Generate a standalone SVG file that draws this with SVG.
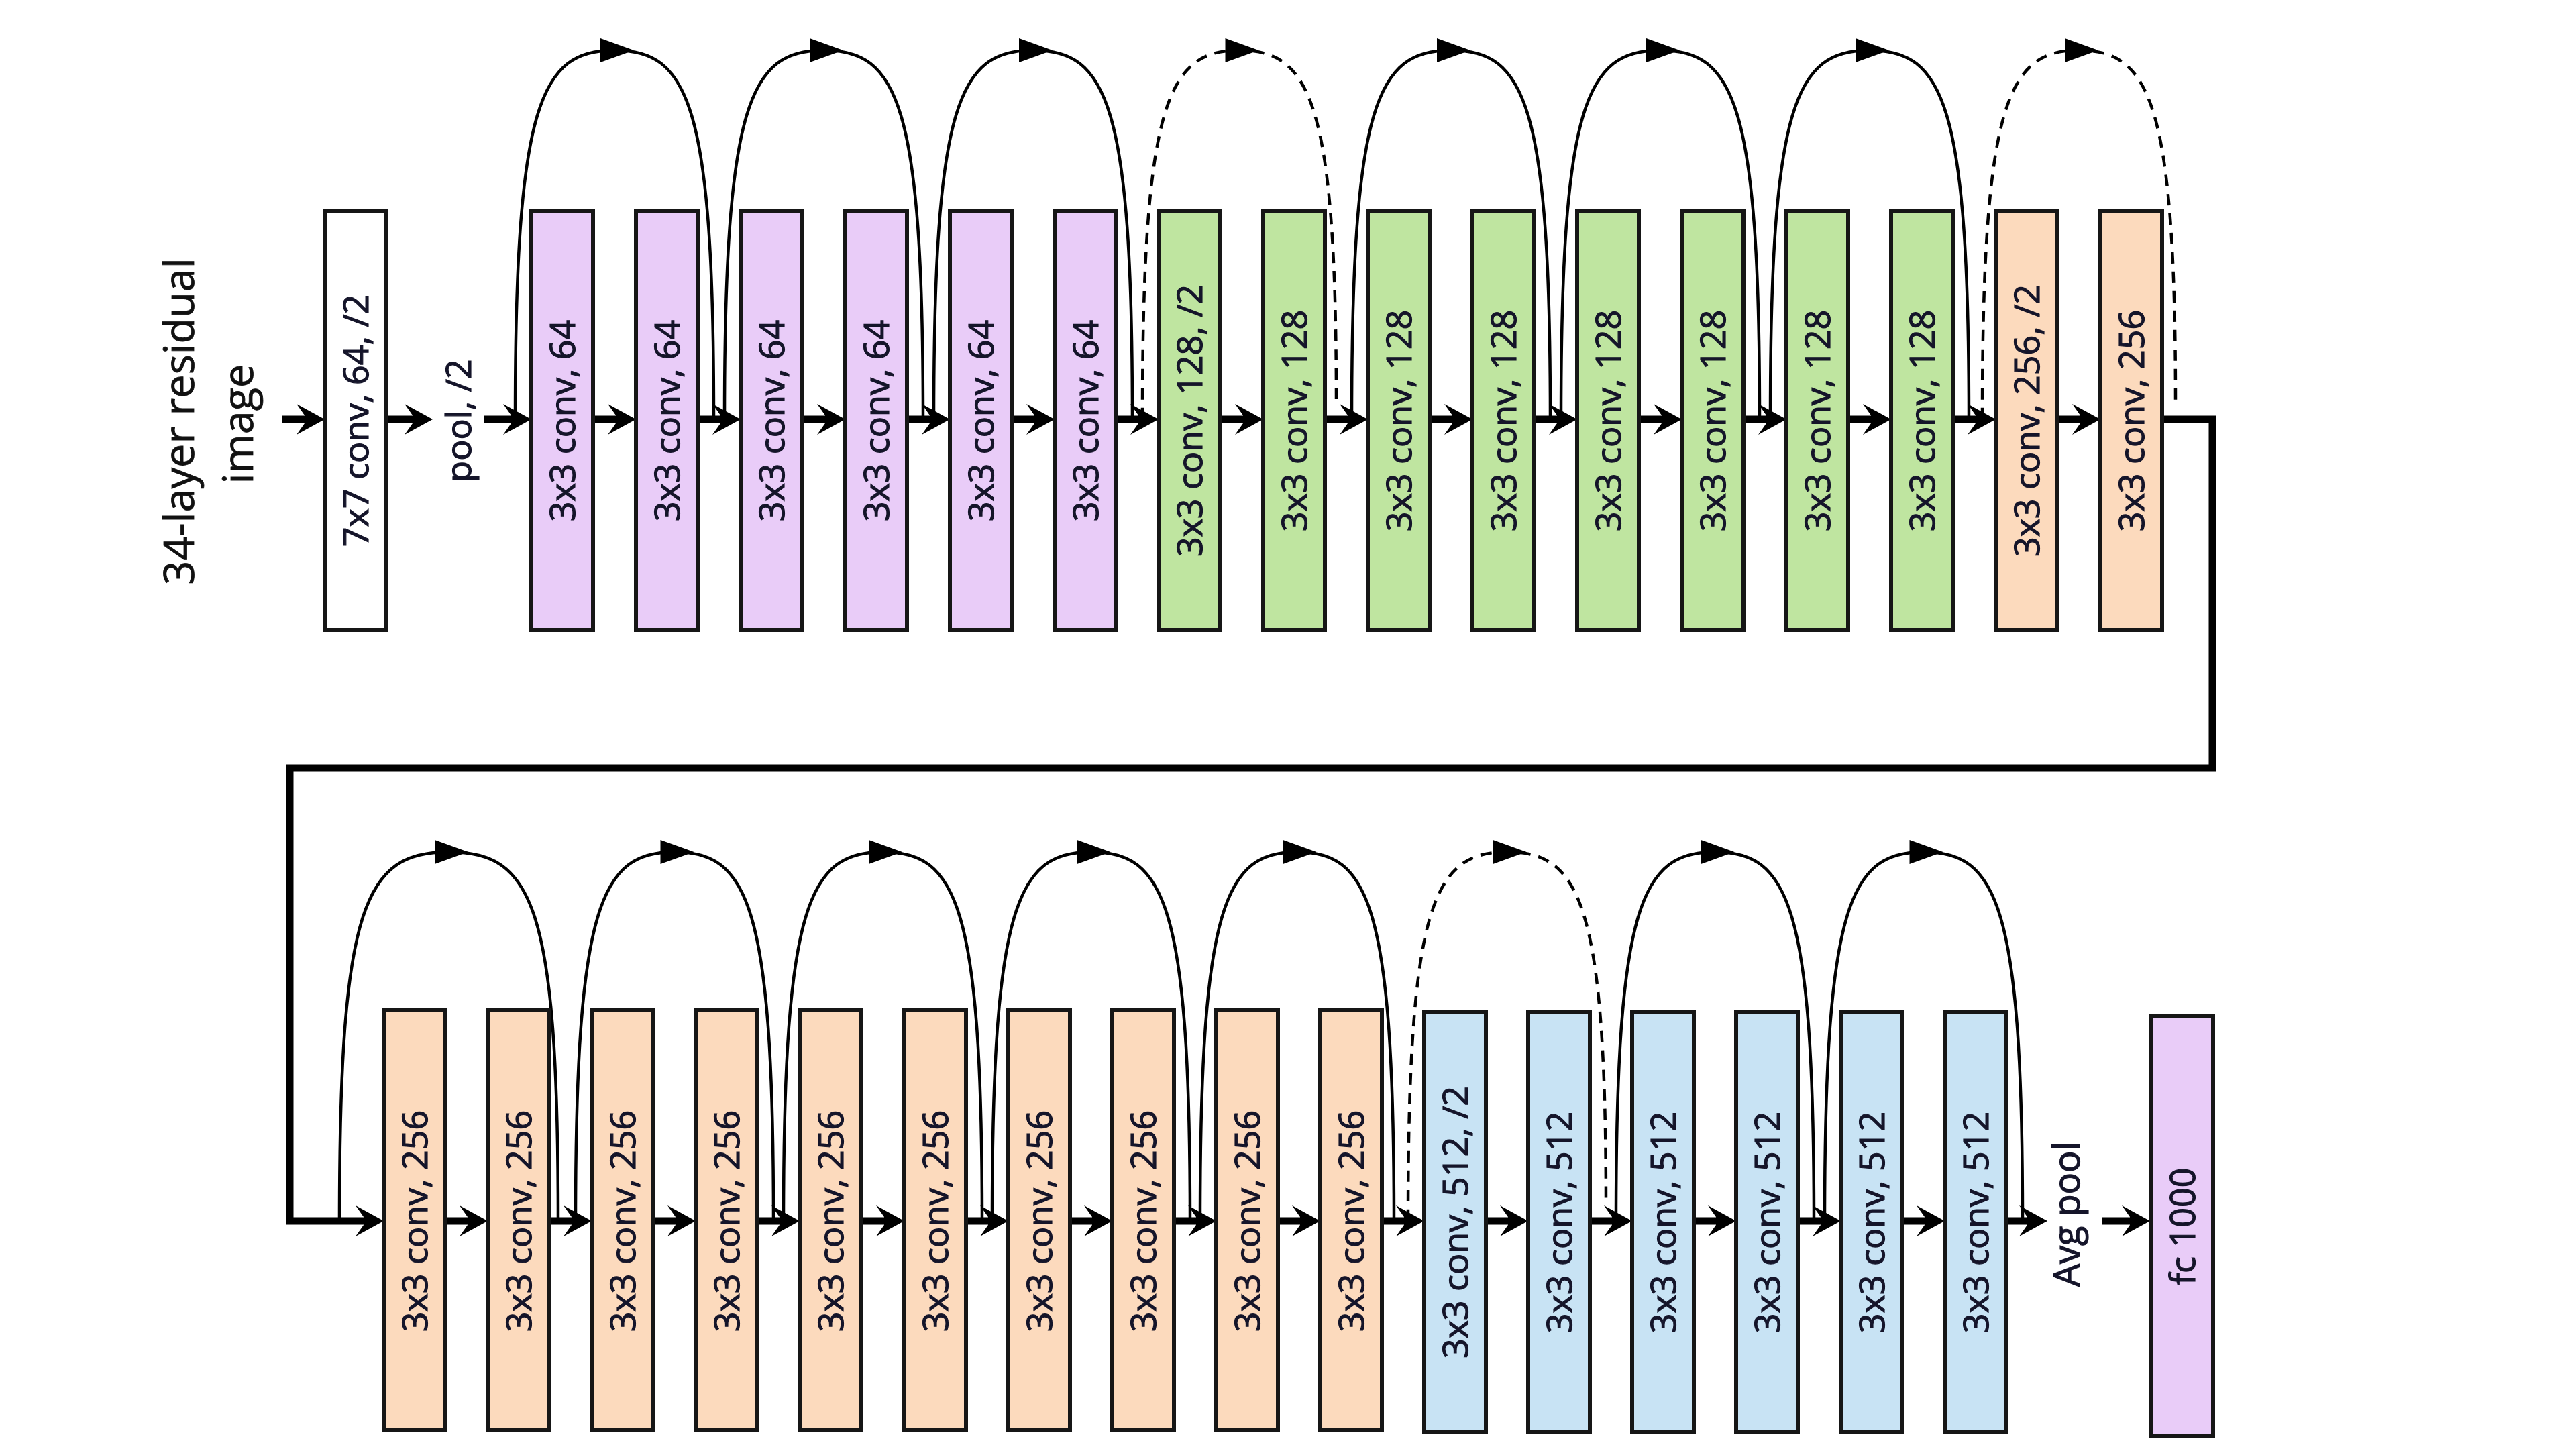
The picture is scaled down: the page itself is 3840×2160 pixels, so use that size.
<svg xmlns="http://www.w3.org/2000/svg" width="3840" height="2160" viewBox="0 0 3840 2160">
<defs>
<style>
.bg{fill:#ffffff}
.box{stroke:#161616;stroke-width:6}
.w{fill:#ffffff}
.p{fill:#E9CCF8}
.g{fill:#BFE5A0}
.o{fill:#FCDABD}
.b{fill:#C8E3F4}
.lbl{font-family:"Open Sans","DejaVu Sans",sans-serif;font-size:52px;fill:#15152a;stroke:#15152a;stroke-width:1.2;text-anchor:middle}
.ttl{font-family:"Open Sans","DejaVu Sans",sans-serif;font-size:63px;fill:#111;stroke:#111;stroke-width:0.8;text-anchor:middle}
.ml{fill:none;stroke:#000;stroke-width:11;stroke-linejoin:miter;marker-end:url(#ah)}
.arc{fill:none;stroke:#000;stroke-width:4.5;marker-mid:url(#tri)}
.dash{stroke-dasharray:17 12}
</style>
<marker id="ah" markerUnits="userSpaceOnUse" viewBox="-10 -30 60 60" markerWidth="60" markerHeight="60" refX="10" refY="0" orient="auto" overflow="visible">
<path d="M40,0 L-2,-23 L10,-6 L10,6 L-2,23 Z" fill="#000"/>
</marker>
<marker id="tri" markerUnits="userSpaceOnUse" viewBox="-30 -30 70 60" markerWidth="70" markerHeight="60" refX="0" refY="0" orient="auto" overflow="visible">
<path d="M29,0 L-21,-18 L-21,18 Z" fill="#000"/>
</marker>
</defs>
<rect class="bg" x="0" y="0" width="3840" height="2160"/>

<g id="title">
<text class="ttl" transform="translate(289,628) rotate(-90)">34-layer residual</text>
<text class="ttl" transform="translate(377,632) rotate(-90)">image</text>
</g>
<g id="pool">
<text class="lbl" transform="translate(702,627) rotate(-90)">pool, /2</text>
</g>
<g id="avgpool">
<text class="lbl" style="font-size:54px" transform="translate(3100,1810) rotate(-90)">Avg pool</text>
</g>

<g id="connectors">
<path class="ml" d="M420 625 H454"/>
<path class="ml" d="M577 625 H615"/>
<path class="ml" d="M722 625 H762"/>
<path class="ml" d="M884 625 H918"/>
<path class="ml" d="M1040 625 H1074"/>
<path class="ml" d="M1196 625 H1230"/>
<path class="ml" d="M1352 625 H1386"/>
<path class="ml" d="M1508 625 H1542"/>
<path class="ml" d="M1664 625 H1697"/>
<path class="ml" d="M1819 625 H1853"/>
<path class="ml" d="M1975 625 H2009"/>
<path class="ml" d="M2131 625 H2165"/>
<path class="ml" d="M2287 625 H2321"/>
<path class="ml" d="M2443 625 H2477"/>
<path class="ml" d="M2599 625 H2633"/>
<path class="ml" d="M2755 625 H2789"/>
<path class="ml" d="M2911 625 H2945"/>
<path class="ml" d="M3067 625 H3101"/>
<path class="ml" d="M3223 625 H3298 V1145 H432 V1820 H542"/>
<path class="ml" d="M664 1820 H697"/>
<path class="ml" d="M819 1820 H852"/>
<path class="ml" d="M974 1820 H1007"/>
<path class="ml" d="M1129 1820 H1162"/>
<path class="ml" d="M1284 1820 H1318"/>
<path class="ml" d="M1440 1820 H1473"/>
<path class="ml" d="M1595 1820 H1628"/>
<path class="ml" d="M1750 1820 H1783"/>
<path class="ml" d="M1905 1820 H1938"/>
<path class="ml" d="M2060 1820 H2093"/>
<path class="ml" d="M2215 1820 H2248"/>
<path class="ml" d="M2370 1820 H2403"/>
<path class="ml" d="M2525 1820 H2558"/>
<path class="ml" d="M2680 1820 H2714"/>
<path class="ml" d="M2836 1820 H2869"/>
<path class="ml" d="M2991 1820 H3022"/>
<path class="ml" d="M3133 1820 H3175"/>

<path class="arc" d="M768 625 C768 153 806 75 916 75 C1026 75 1064 153 1064 625"/>
<path class="arc" d="M1080 625 C1080 153 1118 75 1228 75 C1338 75 1376 153 1376 625"/>
<path class="arc" d="M1392 625 C1392 153 1430 75 1540 75 C1650 75 1688 153 1688 625"/>
<path class="arc dash" d="M1703 625 C1703 153 1741 75 1847.5 75 C1954 75 1992 153 1992 602"/>
<path class="arc" d="M2015 625 C2015 153 2053 75 2163 75 C2273 75 2311 153 2311 625"/>
<path class="arc" d="M2327 625 C2327 153 2365 75 2475 75 C2585 75 2623 153 2623 625"/>
<path class="arc" d="M2639 625 C2639 153 2677 75 2787 75 C2897 75 2935 153 2935 625"/>
<path class="arc dash" d="M2955 625 C2955 153 2993 75 3099 75 C3205 75 3243 153 3243 602"/>

<path class="arc" d="M506 1820 C506 1348 544 1270 669 1270 C794 1270 832 1348 832 1820"/>
<path class="arc" d="M858 1820 C858 1348 896 1270 1005.5 1270 C1115 1270 1153 1348 1153 1820"/>
<path class="arc" d="M1168 1820 C1168 1348 1206 1270 1316 1270 C1426 1270 1464 1348 1464 1820"/>
<path class="arc" d="M1479 1820 C1479 1348 1517 1270 1626.5 1270 C1736 1270 1774 1348 1774 1820"/>
<path class="arc" d="M1789 1820 C1789 1348 1827 1270 1933.5 1270 C2040 1270 2078 1348 2078 1820"/>
<path class="arc dash" d="M2099 1820 C2099 1348 2137 1270 2246.5 1270 C2356 1270 2394 1348 2394 1797"/>
<path class="arc" d="M2409 1820 C2409 1348 2447 1270 2556.5 1270 C2666 1270 2704 1348 2704 1820"/>
<path class="arc" d="M2720 1820 C2720 1348 2758 1270 2867.5 1270 C2977 1270 3015 1348 3015 1820"/>
</g>

<g id="conv7x7"><rect class="box w" x="484" y="315" width="92" height="624"/><text class="lbl" transform="translate(549,627) rotate(-90)">7x7 conv, 64, /2</text></g>
<g id="r1b1"><rect class="box p" x="792" y="315" width="92" height="624"/><text class="lbl" transform="translate(857,627) rotate(-90)">3x3 conv, 64</text></g>
<g id="r1b2"><rect class="box p" x="948" y="315" width="92" height="624"/><text class="lbl" transform="translate(1013,627) rotate(-90)">3x3 conv, 64</text></g>
<g id="r1b3"><rect class="box p" x="1104" y="315" width="92" height="624"/><text class="lbl" transform="translate(1169,627) rotate(-90)">3x3 conv, 64</text></g>
<g id="r1b4"><rect class="box p" x="1260" y="315" width="92" height="624"/><text class="lbl" transform="translate(1325,627) rotate(-90)">3x3 conv, 64</text></g>
<g id="r1b5"><rect class="box p" x="1416" y="315" width="92" height="624"/><text class="lbl" transform="translate(1481,627) rotate(-90)">3x3 conv, 64</text></g>
<g id="r1b6"><rect class="box p" x="1572" y="315" width="92" height="624"/><text class="lbl" transform="translate(1637,627) rotate(-90)">3x3 conv, 64</text></g>
<g id="r1b7"><rect class="box g" x="1727" y="315" width="92" height="624"/><text class="lbl" transform="translate(1792,627) rotate(-90)">3x3 conv, 128, /2</text></g>
<g id="r1b8"><rect class="box g" x="1883" y="315" width="92" height="624"/><text class="lbl" transform="translate(1948,627) rotate(-90)">3x3 conv, 128</text></g>
<g id="r1b9"><rect class="box g" x="2039" y="315" width="92" height="624"/><text class="lbl" transform="translate(2104,627) rotate(-90)">3x3 conv, 128</text></g>
<g id="r1b10"><rect class="box g" x="2195" y="315" width="92" height="624"/><text class="lbl" transform="translate(2260,627) rotate(-90)">3x3 conv, 128</text></g>
<g id="r1b11"><rect class="box g" x="2351" y="315" width="92" height="624"/><text class="lbl" transform="translate(2416,627) rotate(-90)">3x3 conv, 128</text></g>
<g id="r1b12"><rect class="box g" x="2507" y="315" width="92" height="624"/><text class="lbl" transform="translate(2572,627) rotate(-90)">3x3 conv, 128</text></g>
<g id="r1b13"><rect class="box g" x="2663" y="315" width="92" height="624"/><text class="lbl" transform="translate(2728,627) rotate(-90)">3x3 conv, 128</text></g>
<g id="r1b14"><rect class="box g" x="2819" y="315" width="92" height="624"/><text class="lbl" transform="translate(2884,627) rotate(-90)">3x3 conv, 128</text></g>
<g id="r1b15"><rect class="box o" x="2975" y="315" width="92" height="624"/><text class="lbl" transform="translate(3040,627) rotate(-90)">3x3 conv, 256, /2</text></g>
<g id="r1b16"><rect class="box o" x="3131" y="315" width="92" height="624"/><text class="lbl" transform="translate(3196,627) rotate(-90)">3x3 conv, 256</text></g>

<g id="r2b1"><rect class="box o" x="572" y="1506" width="92" height="626"/><text class="lbl" transform="translate(637,1820) rotate(-90)">3x3 conv, 256</text></g>
<g id="r2b2"><rect class="box o" x="727" y="1506" width="92" height="626"/><text class="lbl" transform="translate(792,1820) rotate(-90)">3x3 conv, 256</text></g>
<g id="r2b3"><rect class="box o" x="882" y="1506" width="92" height="626"/><text class="lbl" transform="translate(947,1820) rotate(-90)">3x3 conv, 256</text></g>
<g id="r2b4"><rect class="box o" x="1037" y="1506" width="92" height="626"/><text class="lbl" transform="translate(1102,1820) rotate(-90)">3x3 conv, 256</text></g>
<g id="r2b5"><rect class="box o" x="1192" y="1506" width="92" height="626"/><text class="lbl" transform="translate(1257,1820) rotate(-90)">3x3 conv, 256</text></g>
<g id="r2b6"><rect class="box o" x="1348" y="1506" width="92" height="626"/><text class="lbl" transform="translate(1413,1820) rotate(-90)">3x3 conv, 256</text></g>
<g id="r2b7"><rect class="box o" x="1503" y="1506" width="92" height="626"/><text class="lbl" transform="translate(1568,1820) rotate(-90)">3x3 conv, 256</text></g>
<g id="r2b8"><rect class="box o" x="1658" y="1506" width="92" height="626"/><text class="lbl" transform="translate(1723,1820) rotate(-90)">3x3 conv, 256</text></g>
<g id="r2b9"><rect class="box o" x="1813" y="1506" width="92" height="626"/><text class="lbl" transform="translate(1878,1820) rotate(-90)">3x3 conv, 256</text></g>
<g id="r2b10"><rect class="box o" x="1968" y="1506" width="92" height="626"/><text class="lbl" transform="translate(2033,1820) rotate(-90)">3x3 conv, 256</text></g>
<g id="r2b11"><rect class="box b" x="2123" y="1509" width="92" height="626"/><text class="lbl" transform="translate(2188,1822) rotate(-90)">3x3 conv, 512, /2</text></g>
<g id="r2b12"><rect class="box b" x="2278" y="1509" width="92" height="626"/><text class="lbl" transform="translate(2343,1822) rotate(-90)">3x3 conv, 512</text></g>
<g id="r2b13"><rect class="box b" x="2433" y="1509" width="92" height="626"/><text class="lbl" transform="translate(2498,1822) rotate(-90)">3x3 conv, 512</text></g>
<g id="r2b14"><rect class="box b" x="2588" y="1509" width="92" height="626"/><text class="lbl" transform="translate(2653,1822) rotate(-90)">3x3 conv, 512</text></g>
<g id="r2b15"><rect class="box b" x="2744" y="1509" width="92" height="626"/><text class="lbl" transform="translate(2809,1822) rotate(-90)">3x3 conv, 512</text></g>
<g id="r2b16"><rect class="box b" x="2899" y="1509" width="92" height="626"/><text class="lbl" transform="translate(2964,1822) rotate(-90)">3x3 conv, 512</text></g>
<g id="fc1000"><rect class="box p" x="3207" y="1515" width="92" height="626"/><text class="lbl" transform="translate(3272,1828) rotate(-90)">fc 1000</text></g>
</svg>
